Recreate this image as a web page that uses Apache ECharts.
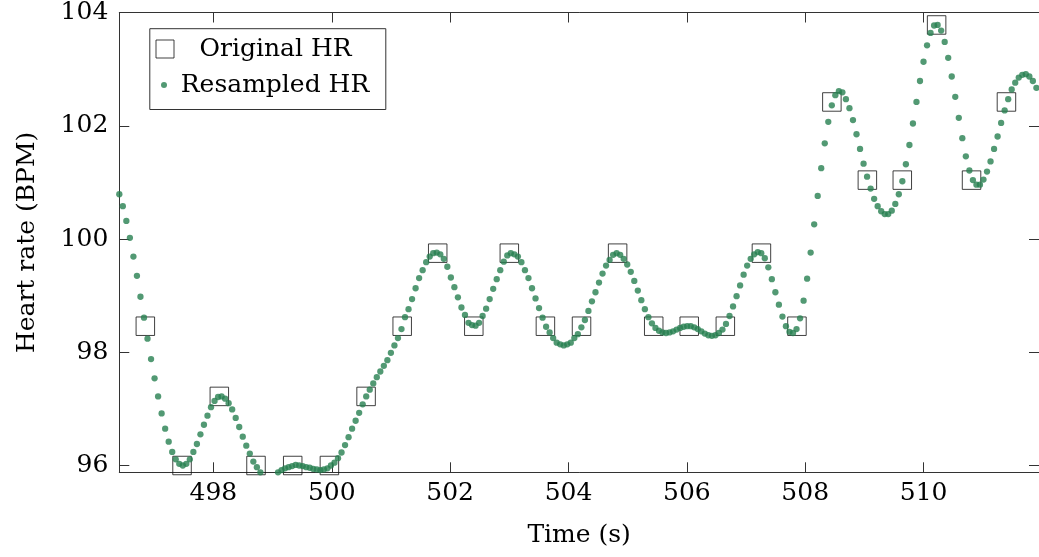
<!DOCTYPE html>
<html>
<head>
<meta charset="utf-8">
<script src="https://cdn.jsdelivr.net/npm/echarts@6/dist/echarts.min.js"></script>
<style>
  html, body { margin: 0; padding: 0; background: #ffffff; }
  #chart { width: 1039px; height: 557px; }
</style>
</head>
<body>
<div id="chart"></div>
<script>
// ---- data ----
const originalTime = [496.85, 497.47, 498.10, 498.72, 499.34, 499.96, 500.58, 501.19, 501.79, 502.40,
  503.00, 503.61, 504.22, 504.83, 505.44, 506.04, 506.65, 507.26, 507.86, 508.45,
  509.05, 509.64, 510.22, 510.81, 511.40];
const originalHR = [98.46, 96.00, 97.22, 96.00, 96.00, 96.00, 97.22, 98.46, 99.75, 98.46,
  99.75, 98.46, 98.46, 99.75, 98.46, 98.46, 98.46, 99.75, 98.46, 102.42,
  101.04, 101.04, 103.78, 101.04, 102.42];

// resampled series: uniform time grid (start + step)
const resampledStart = 496.41;
const resampledStep = 0.0596;
const resampledHR = [
  100.79, 100.58, 100.32, 100.02, 99.69, 99.35, 98.98, 98.61, 98.24, 97.88,
  97.54, 97.22, 96.92, 96.65, 96.42, 96.24, 96.11, 96.03, 96.00, 96.03,
  96.11, 96.24, 96.38, 96.55, 96.72, 96.88, 97.03, 97.14, 97.21, 97.22,
  97.18, 97.10, 96.99, 96.84, 96.68, 96.51, 96.35, 96.21, 96.07, 95.97,
  95.88, 95.83, 95.81, 95.81, 95.84, 95.88, 95.92, 95.95, 95.97, 95.99,
  96.01, 96.00, 95.99, 95.97, 95.96, 95.94, 95.93, 95.92, 95.93, 95.95,
  96.00, 96.05, 96.13, 96.23, 96.36, 96.50, 96.65, 96.79, 96.93, 97.08,
  97.22, 97.34, 97.45, 97.56, 97.66, 97.76, 97.86, 97.99, 98.12, 98.25,
  98.41, 98.62, 98.76, 98.94, 99.13, 99.31, 99.45, 99.59, 99.69, 99.75,
  99.76, 99.73, 99.65, 99.51, 99.32, 99.15, 98.97, 98.79, 98.66, 98.52,
  98.48, 98.47, 98.52, 98.64, 98.77, 98.94, 99.12, 99.29, 99.45, 99.60,
  99.71, 99.75, 99.73, 99.69, 99.59, 99.45, 99.31, 99.13, 98.95, 98.78,
  98.61, 98.45, 98.35, 98.25, 98.17, 98.14, 98.12, 98.14, 98.17, 98.25,
  98.32, 98.44, 98.57, 98.73, 98.90, 99.06, 99.23, 99.39, 99.53, 99.63,
  99.72, 99.75, 99.72, 99.65, 99.55, 99.42, 99.26, 99.09, 98.92, 98.76,
  98.62, 98.51, 98.43, 98.38, 98.35, 98.34, 98.35, 98.37, 98.40, 98.43,
  98.45, 98.46, 98.46, 98.44, 98.41, 98.37, 98.33, 98.30, 98.29, 98.30,
  98.34, 98.40, 98.50, 98.64, 98.81, 98.99, 99.18, 99.37, 99.53, 99.65,
  99.73, 99.77, 99.75, 99.66, 99.50, 99.29, 99.06, 98.84, 98.63, 98.46,
  98.36, 98.34, 98.41, 98.60, 98.91, 99.30, 99.76, 100.26, 100.76, 101.25,
  101.69, 102.07, 102.36, 102.54, 102.61, 102.59, 102.47, 102.31, 102.10, 101.85,
  101.59, 101.33, 101.10, 100.89, 100.71, 100.58, 100.49, 100.44, 100.44, 100.50,
  100.62, 100.79, 101.02, 101.32, 101.66, 102.04, 102.42, 102.79, 103.13, 103.42,
  103.64, 103.77, 103.78, 103.68, 103.48, 103.20, 102.87, 102.51, 102.14, 101.78,
  101.46, 101.21, 101.04, 100.96, 100.96, 101.05, 101.19, 101.37, 101.59, 101.81,
  102.05, 102.27, 102.47, 102.64, 102.76, 102.85, 102.90, 102.91, 102.87, 102.79,
  102.67
];
const xTicks = [498, 500, 502, 504, 506, 508, 510];
const yTicks = [96, 98, 100, 102, 104];
const xRange = [496.41, 511.95];
const yRange = [95.88, 104];

// ---- build ----
const resampledData = resampledHR.map((v, i) => [resampledStart + i * resampledStep, v]);
const originalData = originalHR.map((v, i) => [originalTime[i], v]);

const FONT = 'DejaVu Serif';
const FS = 25;
const AXIS_COLOR = '#333333';
const GREEN = '#277f50';

function axisCommon(ticks) {
  return {
    axisLine: { show: true, onZero: false, lineStyle: { color: AXIS_COLOR, width: 1 } },
    axisTick: { show: true, inside: true, length: 10, customValues: ticks,
                lineStyle: { color: AXIS_COLOR, width: 1 } },
    axisLabel: { show: false },
    splitLine: { show: false }
  };
}

const chart = echarts.init(document.getElementById('chart'), null, { renderer: 'canvas' });

const option = {
  animation: false,
  backgroundColor: '#ffffff',
  grid: { left: 119.3, top: 11.7, right: -1.5, bottom: 84.7, containLabel: false },
  xAxis: [
    Object.assign({
      type: 'value', position: 'bottom', min: xRange[0], max: xRange[1],
      name: 'Time (s)', nameLocation: 'middle', nameGap: 51,
      nameTextStyle: { color: '#000', fontFamily: FONT, fontSize: FS }
    }, axisCommon(xTicks), {
      axisLabel: { show: true, customValues: xTicks, color: '#000', fontFamily: FONT, fontSize: FS, margin: 9 }
    }),
    Object.assign({ type: 'value', position: 'top', min: xRange[0], max: xRange[1] }, axisCommon(xTicks))
  ],
  yAxis: [
    Object.assign({
      type: 'value', position: 'left', min: yRange[0], max: yRange[1],
      name: 'Heart rate (BPM)', nameLocation: 'middle', nameGap: 79, nameRotate: 90,
      nameTextStyle: { color: '#000', fontFamily: FONT, fontSize: FS }
    }, axisCommon(yTicks), {
      axisLabel: { show: true, customValues: yTicks, color: '#000', fontFamily: FONT, fontSize: FS, margin: 11 }
    }),
    Object.assign({ type: 'value', position: 'right', min: yRange[0], max: yRange[1] }, axisCommon(yTicks))
  ],
  legend: [
    {
      data: ['Original HR'], left: 155.5, top: 36, orient: 'vertical', padding: 0,
      itemWidth: 18, itemHeight: 18, selectedMode: false,
      itemStyle: { color: 'rgba(0,0,0,0)', borderColor: '#111', borderWidth: 1 },
      formatter: n => '{c|' + n + '}',
      textStyle: { color: '#000', fontFamily: FONT, fontSize: FS, lineHeight: 26,
        rich: { c: { width: 193, align: 'center', fontFamily: FONT, fontSize: FS, lineHeight: 26, color: '#000' } } }
    },
    {
      data: ['Resampled HR'], left: 161, top: 72, orient: 'vertical', padding: 0,
      itemWidth: 6, itemHeight: 6, selectedMode: false,
      formatter: n => '{c|' + n + '}',
      textStyle: { color: '#000', fontFamily: FONT, fontSize: FS, lineHeight: 26,
        rich: { c: { width: 206, align: 'center', fontFamily: FONT, fontSize: FS, lineHeight: 26, color: '#000' } } }
    }
  ],
  graphic: [
    { type: 'rect', left: 147.3, top: 26.2, shape: { width: 236, height: 80.8 },
      style: { fill: 'none', stroke: '#333', lineWidth: 1 }, z: 100 }
  ],
  series: [
    {
      name: 'Original HR', type: 'scatter', data: originalData,
      symbol: 'rect', symbolSize: 18.5, clip: true, z: 2,
      itemStyle: { color: 'rgba(0,0,0,0)', borderColor: '#111', borderWidth: 1 },
      emphasis: { disabled: true }
    },
    {
      name: 'Resampled HR', type: 'scatter', data: resampledData,
      symbol: 'circle', symbolSize: 6.3, clip: true, z: 3,
      itemStyle: { color: GREEN },
      emphasis: { disabled: true }
    }
  ]
};
chart.setOption(option);
</script>
</body>
</html>
